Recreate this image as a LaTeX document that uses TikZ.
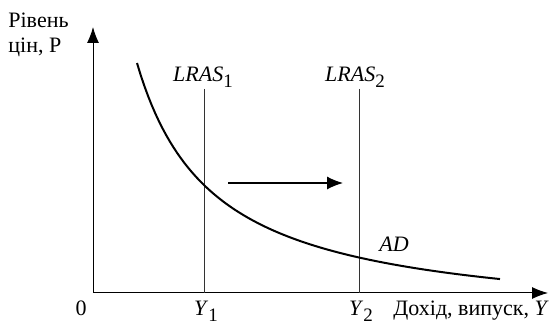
\documentclass[tikz,border=0pt]{standalone}
\usepackage{fontspec}
\setmainfont{Liberation Serif}
\usetikzlibrary{arrows.meta}
\newcommand{\idx}[1]{\raisebox{-0.5ex}{\fontsize{9.5}{10}\selectfont #1}}

\begin{document}
\begin{tikzpicture}[x=0.5pt, y=0.5pt,
    axis/.style={line width=0.5pt, -{Latex[length=8pt, width=6pt]}},
    lras/.style={line width=0.45pt, draw=black!80},
    adline/.style={line width=1pt},
    shiftarrow/.style={line width=0.6pt, -{Latex[length=8pt, width=6.5pt]}},
    lab/.style={font=\fontsize{11}{12.5}\selectfont, inner sep=0pt}
]
\useasboundingbox (-93,-32) rectangle (467,293);

% ================================================================
%  Axes
% ================================================================
\coordinate (O) at (0,0);
\coordinate (ptop) at (0,266);
\coordinate (yend) at (455,0);
\draw[axis] (O) -- (ptop);
\draw[axis] (O) -- (yend);

\node[lab, anchor=north west, align=left] (plabel) at (-85,280) {Рівень\\цін, P};
\node[lab, anchor=base] (zero) at (-12,-23) {0};
\node[lab, anchor=base] (y1lab) at (113,-23) {\textit{Y}\idx{1}};
\node[lab, anchor=base] (y2lab) at (268,-23) {\textit{Y}\idx{2}};
\node[lab, anchor=base west] (ylabel) at (300,-23) {Дохід, випуск, \textit{Y}};

% ================================================================
%  LRAS lines
% ================================================================
\node[lab, anchor=base] (l1lab) at (110,211) {\textit{LRAS}\idx{1}};
\node[lab, anchor=base] (l2lab) at (262,211) {\textit{LRAS}\idx{2}};

\coordinate (l1top) at (111,204);
\coordinate (l1bot) at (111,0);
\coordinate (l2top) at (266,204);
\coordinate (l2bot) at (266,0);
\draw[lras] (l1top) -- (l1bot);
\draw[lras] (l2top) -- (l2bot);

% shift to the right
\coordinate (sh1) at (135,110);
\coordinate (sh2) at (250,110);
\draw[shiftarrow] (sh1) -- (sh2);

% ================================================================
%  AD curve
% ================================================================
\draw[adline] plot[domain=44:407, samples=100] (\x, {200.7/((\x+32.7)/100)-31.7});
\node[lab, anchor=base] (adlab) at (301,41) {\textit{AD}};
\end{tikzpicture}
\end{document}
